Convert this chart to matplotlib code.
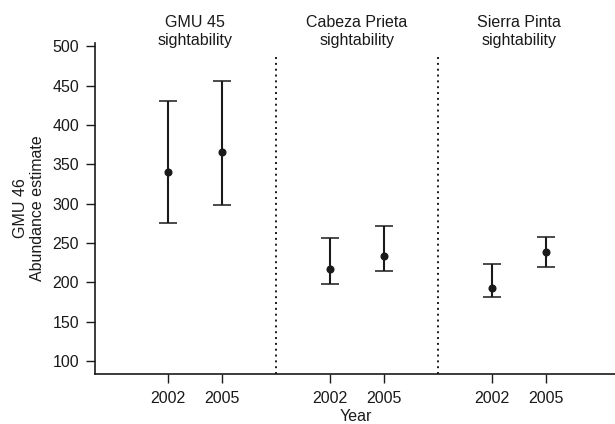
import matplotlib
matplotlib.use("Agg")
import matplotlib.pyplot as plt
import matplotlib.transforms as mtransforms

plt.rcParams['font.family'] = ['Liberation Sans', 'DejaVu Sans']

groups = ["GMU 45\nsightability", "Cabeza Prieta\nsightability", "Sierra Pinta\nsightability"]
years = ["2002", "2005"]
estimates = [340, 365, 217, 234, 193, 239]
lower = [275, 298, 198, 215, 182, 220]
upper = [430, 456, 256, 272, 224, 258]
positions = [1, 2, 4, 5, 7, 8]
separators = [3, 6]

col = '#1a1a1a'
fs = 11.5
fig = plt.figure(figsize=(6.15, 4.24), dpi=100)
ax = fig.add_axes([94.7/615, 1 - 374/424, 1 - 94.7/615 + 0.002, 331/424])

yerr = [[e - l for e, l in zip(estimates, lower)], [u - e for e, u in zip(estimates, upper)]]
ax.errorbar(positions, estimates, yerr=yerr, fmt='o', color=col, ecolor=col,
            markersize=4.8, capsize=6.5, elinewidth=1.5, capthick=1.1)

for s in separators:
    ax.plot([s, s], [83.7, 487], linestyle=(0, (1, 2)), color=col, linewidth=1.4)

ax.set_xlim(-0.36, 9.3)
ax.set_ylim(83.7, 504)
ax.set_yticks([100, 150, 200, 250, 300, 350, 400, 450, 500])
ax.set_xticks(positions)
ax.set_xticklabels(years * 3)

for sp in ['top', 'right']:
    ax.spines[sp].set_visible(False)
for sp in ['left', 'bottom']:
    ax.spines[sp].set_linewidth(1.2)
    ax.spines[sp].set_color(col)
ax.tick_params(axis='both', length=6.2, width=1.0, color=col, labelsize=fs, labelcolor=col)
ax.tick_params(axis='y', pad=5)
ax.tick_params(axis='x', pad=6)

ax.set_xlabel("Year", fontsize=fs, color=col, labelpad=2.5)
ax.set_ylabel("GMU 46\nAbundance estimate", fontsize=fs, color=col, labelpad=5, linespacing=1.2)

trans = mtransforms.blended_transform_factory(ax.transData, ax.transAxes)
for i, g in enumerate(groups):
    xc = (positions[2 * i] + positions[2 * i + 1]) / 2
    ax.text(xc, 1.035, g, transform=trans, ha='center', va='center', fontsize=fs,
            color=col, linespacing=1.2)

fig.savefig("out.png", dpi=100)
